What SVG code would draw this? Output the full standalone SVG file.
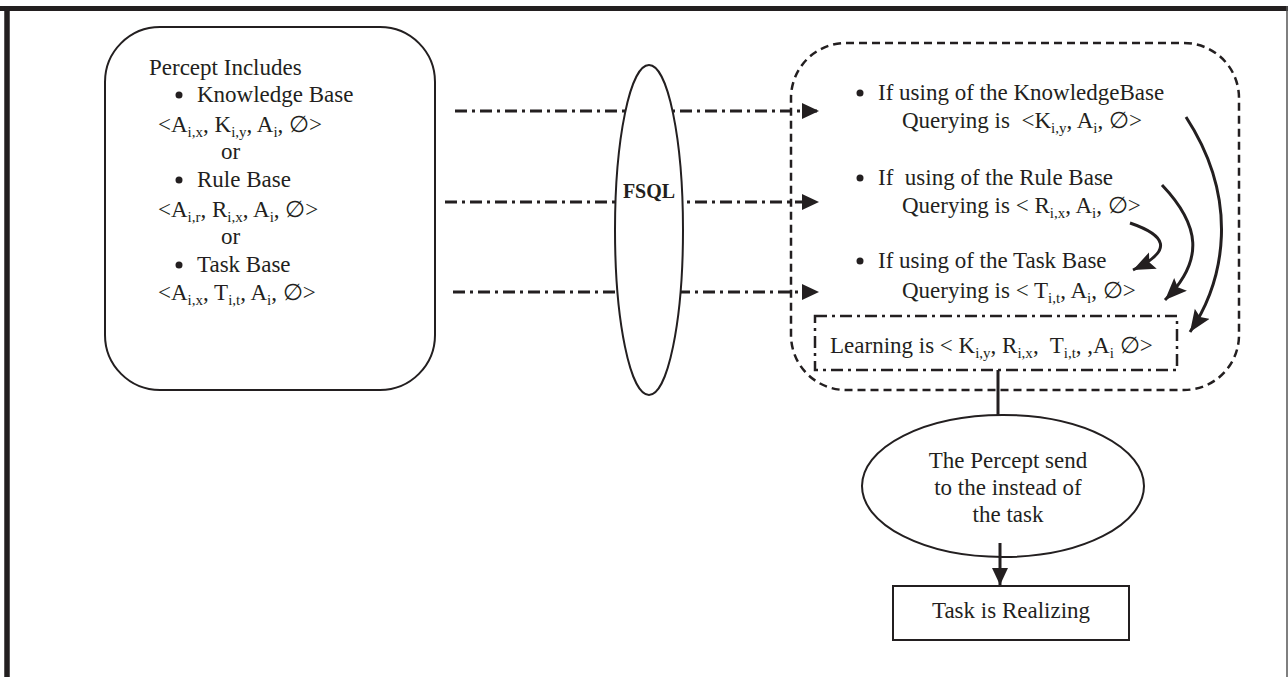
<svg xmlns="http://www.w3.org/2000/svg" width="1288" height="677" viewBox="0 0 1288 677">
<defs>
<style>
text{font-family:"Liberation Serif","DejaVu Serif",serif;font-size:23px;fill:#231f20}
.sub{font-size:15px}
.bold{font-weight:bold;font-size:20px}
.dd{fill:none;stroke:#231f20;stroke-width:3.2;stroke-dasharray:12 5 3 5}
.curve{fill:none;stroke:#231f20;stroke-width:3}
.box{fill:#fff;stroke:#231f20;stroke-width:2}
</style>
<marker id="tri" markerUnits="userSpaceOnUse" markerWidth="18" markerHeight="18" refX="17" refY="8" orient="auto">
<path d="M0,0 L17,8 L0,16 z" fill="#231f20"/>
</marker>
<marker id="cur" markerUnits="userSpaceOnUse" markerWidth="24" markerHeight="20" refX="22" refY="9" orient="auto">
<path d="M0,0 L22,9 L0,18 L4,9 z" fill="#231f20"/>
</marker>
</defs>
<rect width="1288" height="677" fill="#fff"/>
<g id="frame">
<line x1="0" y1="8.5" x2="1288" y2="8.5" stroke="#231f20" stroke-width="5"/>
<line x1="7" y1="6" x2="7" y2="677" stroke="#231f20" stroke-width="5.5"/>
<line x1="1287" y1="6" x2="1287" y2="677" stroke="#555" stroke-width="1.5"/>
</g>
<g id="connectors">
<line class="dd" x1="455" y1="111" x2="819" y2="111" marker-end="url(#tri)"/>
<line class="dd" x1="445" y1="202" x2="819" y2="202" marker-end="url(#tri)"/>
<line class="dd" x1="453" y1="292" x2="819" y2="292" marker-end="url(#tri)"/>
</g>
<g id="percept">
<rect class="box" x="105" y="27" width="330" height="363" rx="55" ry="55"/>
<text x="149" y="75">Percept Includes</text>
<circle cx="179" cy="95" r="3.5" fill="#231f20"/>
<text x="197" y="102">Knowledge Base</text>
<text x="158" y="132">&lt;A<tspan class="sub" dy="5">i,x</tspan><tspan dy="-5">, K</tspan><tspan class="sub" dy="5">i,y</tspan><tspan dy="-5">, A</tspan><tspan class="sub" dy="5">i</tspan><tspan dy="-5">, ∅&gt;</tspan></text>
<text x="221" y="159">or</text>
<circle cx="179" cy="180" r="3.5" fill="#231f20"/>
<text x="197" y="187">Rule Base</text>
<text x="158" y="217">&lt;A<tspan class="sub" dy="5">i,r</tspan><tspan dy="-5">, R</tspan><tspan class="sub" dy="5">i,x</tspan><tspan dy="-5">, A</tspan><tspan class="sub" dy="5">i</tspan><tspan dy="-5">, ∅&gt;</tspan></text>
<text x="221" y="244">or</text>
<circle cx="179" cy="265" r="3.5" fill="#231f20"/>
<text x="197" y="272">Task Base</text>
<text x="158" y="300">&lt;A<tspan class="sub" dy="5">i,x</tspan><tspan dy="-5">, T</tspan><tspan class="sub" dy="5">i,t</tspan><tspan dy="-5">, A</tspan><tspan class="sub" dy="5">i</tspan><tspan dy="-5">, ∅&gt;</tspan></text>
</g>
<g id="fsql">
<ellipse cx="649" cy="230" rx="34" ry="165" fill="#fff" stroke="#231f20" stroke-width="2"/>
<text class="bold" x="649" y="198" text-anchor="middle">FSQL</text>
</g>
<g id="querying">
<rect x="791" y="43" width="448" height="347" rx="55" ry="55" fill="none" stroke="#231f20" stroke-width="2.5" stroke-dasharray="8 5"/>
<circle cx="860" cy="93" r="3.5" fill="#231f20"/>
<text x="878" y="100">If using of the KnowledgeBase</text>
<text x="902" y="128" xml:space="preserve">Querying is  &lt;K<tspan class="sub" dy="5">i,y</tspan><tspan dy="-5">, A</tspan><tspan class="sub" dy="5">i</tspan><tspan dy="-5">, ∅&gt;</tspan></text>
<circle cx="860" cy="178" r="3.5" fill="#231f20"/>
<text x="878" y="185" xml:space="preserve">If  using of the Rule Base</text>
<text x="902" y="213">Querying is &lt; R<tspan class="sub" dy="5">i,x</tspan><tspan dy="-5">, A</tspan><tspan class="sub" dy="5">i</tspan><tspan dy="-5">, ∅&gt;</tspan></text>
<circle cx="860" cy="261" r="3.5" fill="#231f20"/>
<text x="878" y="268">If using of the Task Base</text>
<text x="902" y="298">Querying is &lt; T<tspan class="sub" dy="5">i,t</tspan><tspan dy="-5">, A</tspan><tspan class="sub" dy="5">i</tspan><tspan dy="-5">, ∅&gt;</tspan></text>
</g>
<g id="learning">
<rect x="815" y="316" width="362" height="54" fill="none" stroke="#231f20" stroke-width="2.5" stroke-dasharray="12 5 3 5"/>
<text x="830" y="353" xml:space="preserve">Learning is &lt; K<tspan class="sub" dy="5">i,y</tspan><tspan dy="-5">, R</tspan><tspan class="sub" dy="5">i,x</tspan><tspan dy="-5">,  T</tspan><tspan class="sub" dy="5">i,t</tspan><tspan dy="-5">, ,A</tspan><tspan class="sub" dy="5">i</tspan><tspan dy="-5"> ∅&gt;</tspan></text>
</g>
<g id="curves">
<path class="curve" d="M1186,117 C1240,200 1225,280 1190,332" marker-end="url(#cur)"/>
<path class="curve" d="M1162,185 C1200,225 1205,260 1165,300" marker-end="url(#cur)"/>
<path class="curve" d="M1130,223 C1165,235 1175,250 1133,270" marker-end="url(#cur)"/>
<line x1="998" y1="370" x2="998" y2="415" stroke="#231f20" stroke-width="3"/>
<line x1="1000" y1="543" x2="1000" y2="585" stroke="#231f20" stroke-width="3" marker-end="url(#tri)"/>
</g>
<g id="percept-send">
<ellipse cx="1003" cy="486" rx="141" ry="71" fill="none" stroke="#231f20" stroke-width="2"/>
<text x="1008" y="468" text-anchor="middle">The Percept send</text>
<text x="1008" y="495" text-anchor="middle">to the instead of</text>
<text x="1008" y="522" text-anchor="middle">the task</text>
</g>
<g id="task">
<rect x="893" y="586" width="236" height="54" fill="#fff" stroke="#231f20" stroke-width="2"/>
<text x="1011" y="618" text-anchor="middle">Task is Realizing</text>
</g>
</svg>
